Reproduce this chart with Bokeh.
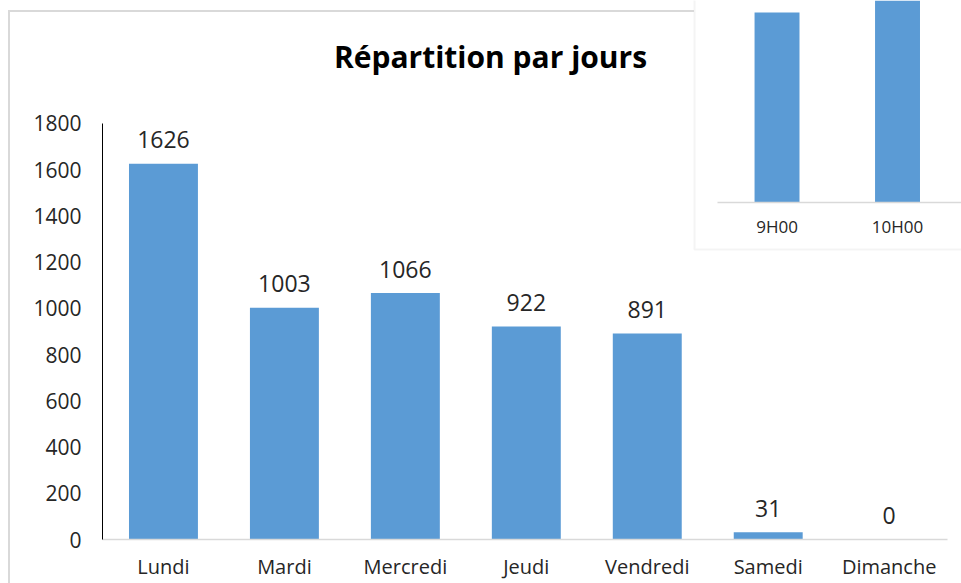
from bokeh.plotting import figure
from bokeh.models import Range1d, FixedTicker, BoxAnnotation, Label, ColumnDataSource, InlineStyleSheet
from bokeh.core.properties import value
from bokeh.embed import file_html
from bokeh.resources import INLINE

# ---- data ----
days = ["Lundi", "Mardi", "Mercredi", "Jeudi", "Vendredi", "Samedi", "Dimanche"]
counts = [1626, 1003, 1066, 922, 891, 31, 0]
y_ticks = [0, 200, 400, 600, 800, 1000, 1200, 1400, 1600, 1800]
title_text = "Répartition par jours"

# fragment of an overlapping chart (hourly distribution)
inset_hours = ["9H00", "10H00"]
inset_counts = [760, 850]

FONT = "Open Sans"
BLUE = "#5B9BD5"
TXT = "#262626"
GRAY = "#d9d9d9"

idx = list(range(len(days)))

p = figure(width=961, height=583, output_backend="svg", toolbar_location=None,
           x_range=Range1d(-0.504, 6.598), y_range=Range1d(0, 2332),
           min_border_left=102, min_border_right=0, min_border_top=0,
           min_border_bottom=44)
p.outline_line_color = None
p.grid.visible = False
p.background_fill_color = "white"
p.border_fill_color = "white"

# outer chart border (left and top edges of the chart area)
p.stylesheets = [InlineStyleSheet(css="""
:host { position: relative; }
:host::after {
  content: ""; position: absolute; left: 8px; top: 10px;
  width: 686px; height: 573px; box-sizing: border-box;
  border-left: 2px solid #d9d9d9; border-top: 2px solid #d9d9d9;
  pointer-events: none;
}
""")]

# x axis
xa = p.xaxis[0]
xa.ticker = FixedTicker(ticks=idx)
xa.major_label_overrides = {i: d for i, d in zip(idx, days)}
xa.bounds = (-0.504, 6.48)
xa.axis_line_color = GRAY
xa.axis_line_width = 1.5
xa.major_tick_line_color = None
xa.minor_tick_line_color = None
xa.major_label_text_font = FONT
xa.major_label_text_font_size = "20px"
xa.major_label_text_color = TXT
xa.major_label_standoff = 7

# y axis
ya = p.yaxis[0]
ya.ticker = FixedTicker(ticks=y_ticks)
ya.bounds = (0, 1800)
ya.axis_line_color = "black"
ya.axis_line_width = 1
ya.major_tick_line_color = None
ya.minor_tick_line_color = None
ya.major_label_text_font = FONT
ya.major_label_text_font_size = "21px"
ya.major_label_text_color = TXT
ya.major_label_standoff = 15

# main bars
src = ColumnDataSource(dict(x=idx, top=counts, lab=[str(c) for c in counts]))
p.vbar(x="x", top="top", width=0.57, source=src, fill_color=BLUE, line_color=None)
p.text(x="x", y="top", text="lab", source=src, text_align="center",
       text_baseline="middle", y_offset=-24, text_font=value(FONT),
       text_font_size="23px", text_color=TXT)

# title
p.add_layout(Label(x=2.704, y=2090, text=title_text, text_align="center",
                   text_baseline="middle", text_font=FONT, text_font_size="30px",
                   text_font_style="bold", text_color="black"))

# ---- overlapping inset chart ----
p.extra_x_ranges = {"ix": Range1d(-5.598, 1.531)}
p.extra_y_ranges = {"iy": Range1d(-1348, 808)}
p.add_layout(BoxAnnotation(left=-0.685, right=3, top=5000, bottom=-188,
                           x_range_name="ix", y_range_name="iy",
                           fill_color="white", fill_alpha=1,
                           line_color=GRAY, line_width=2, level="underlay"))
isrc = ColumnDataSource(dict(x=[0, 1], top=inset_counts, lab=inset_hours))
p.vbar(x="x", top="top", width=0.373, source=isrc, x_range_name="ix",
       y_range_name="iy", fill_color=BLUE, line_color=None)
p.segment(x0=[-0.494], x1=[2.0], y0=[0], y1=[0], x_range_name="ix",
          y_range_name="iy", line_color=GRAY, line_width=1.5)
p.text(x="x", y=0, text="lab", source=isrc, x_range_name="ix", y_range_name="iy",
       text_align="center", text_baseline="middle", y_offset=24,
       text_font=value(FONT), text_font_size="17px", text_color=TXT)

open("out.html", "w").write(file_html(p, INLINE))
